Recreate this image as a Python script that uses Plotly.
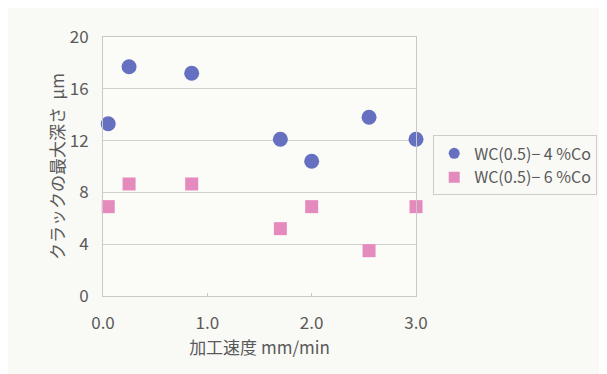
import plotly.graph_objects as go

speed = [0.05, 0.25, 0.85, 1.7, 2.0, 2.55, 3.0]
depth_4co = [13.3, 17.7, 17.2, 12.1, 10.4, 13.8, 12.1]
depth_6co = [6.9, 8.65, 8.65, 5.2, 6.9, 3.5, 6.9]
series_names = ["WC(0.5)− 4 %Co", "WC(0.5)− 6 %Co"]
x_ticks = [0, 1, 2, 3]
x_tick_labels = ["0.0", "1.0", "2.0", "3.0"]
y_ticks = [0, 4, 8, 12, 16, 20]

font_family = "Noto Sans CJK JP, Liberation Sans, Arial, sans-serif"
text_color = "#5a5a5a"
blue = "#6670c0"
pink = "#e58abd"

fig = go.Figure()
fig.add_trace(go.Scatter(
    x=speed, y=depth_4co, mode="markers", name=series_names[0],
    marker=dict(symbol="circle", size=15, color=blue),
    cliponaxis=False, showlegend=False,
))
fig.add_trace(go.Scatter(
    x=speed, y=depth_6co, mode="markers", name=series_names[1],
    marker=dict(symbol="square", size=13, color=pink),
    cliponaxis=False, showlegend=False,
))
# legend entries (smaller symbols, as in the reference legend)
fig.add_trace(go.Scatter(
    x=[None], y=[None], mode="markers", name=series_names[0],
    marker=dict(symbol="circle", size=11, color=blue),
))
fig.add_trace(go.Scatter(
    x=[None], y=[None], mode="markers", name=series_names[1],
    marker=dict(symbol="square", size=11, color=pink),
))

fig.update_layout(
    width=607, height=374,
    paper_bgcolor="#f9f9f6", plot_bgcolor="#fbfbf8",
    margin=dict(l=95, r=199, t=29, b=86),
    font=dict(family=font_family, color=text_color, size=16),
    showlegend=True,
    legend=dict(
        x=1.055, y=0.504, xanchor="left", yanchor="middle",
        bgcolor="rgba(0,0,0,0)", bordercolor="#cccccc", borderwidth=1,
        font=dict(size=16, color=text_color),
        itemwidth=30, tracegroupgap=0,
    ),
    xaxis=dict(
        range=[0, 3], tickvals=x_ticks, ticktext=x_tick_labels,
        showgrid=False, zeroline=False,
        showline=True, linecolor="#c8c8c8", linewidth=1, mirror=True,
        ticks="inside", ticklen=3, tickcolor="#c8c8c8",
        tickfont=dict(size=17), ticklabelstandoff=12,
        title=dict(text="加工速度 mm/min", standoff=0, font=dict(size=17)),
    ),
    yaxis=dict(
        range=[0, 20], tickvals=y_ticks,
        showgrid=True, gridcolor="#d0d0d0", gridwidth=1, zeroline=False,
        showline=True, linecolor="#c8c8c8", linewidth=1, mirror=True,
        ticks="", ticklabelstandoff=10, tickfont=dict(size=17),
        title=dict(text="クラックの最大深さ  μm", standoff=0, font=dict(size=17)),
    ),
)

fig.write_html("out.html")
